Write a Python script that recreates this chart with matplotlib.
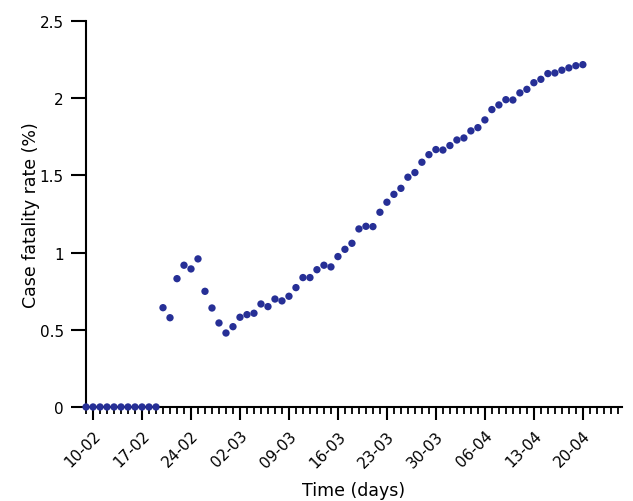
import numpy as np
import matplotlib
matplotlib.use("Agg")
import matplotlib.pyplot as plt
from matplotlib.ticker import MultipleLocator

# Case fatality rate (%) per day, 09-02 to 20-04
cfr = [0, 0, 0, 0, 0, 0, 0, 0, 0, 0, 0,
       0.643, 0.578, 0.831, 0.918, 0.894, 0.959, 0.749, 0.641, 0.544, 0.479,
       0.520, 0.581, 0.598, 0.607, 0.667, 0.650, 0.699, 0.687, 0.717, 0.773,
       0.838, 0.838, 0.889, 0.918, 0.907, 0.974, 1.021, 1.060, 1.153, 1.170,
       1.168, 1.261, 1.326, 1.377, 1.416, 1.488, 1.518, 1.585, 1.634, 1.667,
       1.664, 1.693, 1.729, 1.742, 1.788, 1.809, 1.859, 1.926, 1.956, 1.990,
       1.988, 2.034, 2.057, 2.100, 2.122, 2.159, 2.163, 2.181, 2.196, 2.210,
       2.217]
days = np.arange(len(cfr))  # day 0 = 09-02

x_tick_days = [1, 8, 15, 22, 29, 36, 43, 50, 57, 64, 71]
x_tick_labels = ["10-02", "17-02", "24-02", "02-03", "09-03", "16-03",
                 "23-03", "30-03", "06-04", "13-04", "20-04"]
y_ticks = [0, 0.5, 1, 1.5, 2, 2.5]
y_tick_labels = ["0", "0.5", "1", "1.5", "2", "2.5"]

fig = plt.figure(figsize=(6.33, 5.02), dpi=100)
ax = fig.add_axes([0.1359, 0.1873, 0.8468, 0.769])

ax.scatter(days, cfr, s=28, color="#262f96", edgecolors="none", zorder=3, clip_on=False)

ax.set_xlim(0, 76.6)
ax.set_ylim(0, 2.5)
ax.set_xticks(x_tick_days)
ax.set_xticklabels(x_tick_labels, rotation=45, ha="right", rotation_mode="anchor")
ax.xaxis.set_minor_locator(MultipleLocator(1))
ax.set_yticks(y_ticks)
ax.set_yticklabels(y_tick_labels)

for side in ["top", "right"]:
    ax.spines[side].set_visible(False)
for side in ["left", "bottom"]:
    ax.spines[side].set_linewidth(1.5)

ax.tick_params(axis="both", which="major", direction="out", width=1.5, labelsize=11, colors="black")
ax.tick_params(axis="y", which="major", length=11, pad=5)
ax.tick_params(axis="x", which="major", length=9, pad=6)
ax.tick_params(axis="x", which="minor", direction="out", length=5, width=1.3)

ax.set_xlabel("Time (days)", fontsize=12.5, labelpad=8)
ax.set_ylabel("Case fatality rate (%)", fontsize=12.5, labelpad=0)

fig.savefig("out.png", dpi=100)
